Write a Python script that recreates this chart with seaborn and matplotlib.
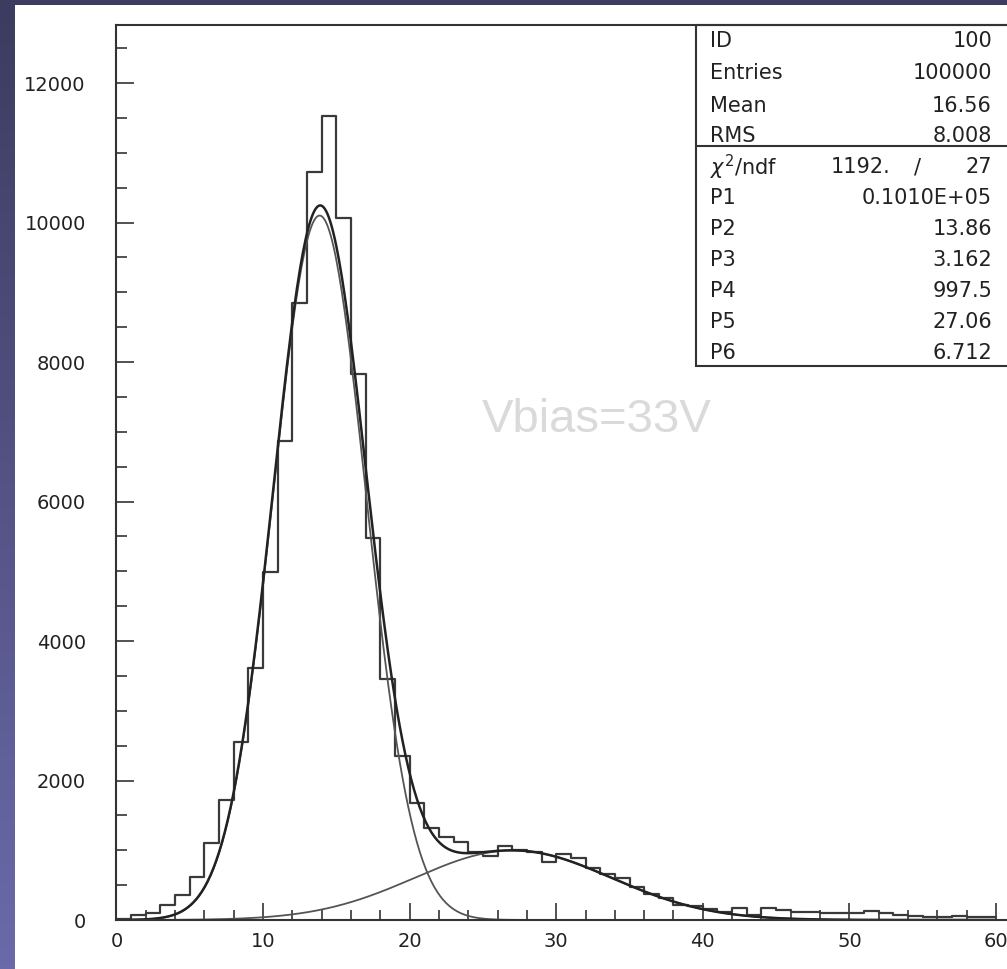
import numpy as np
import pandas as pd
import matplotlib
matplotlib.use("Agg")
import matplotlib.pyplot as plt
from matplotlib.patches import Rectangle
from matplotlib.colors import LinearSegmentedColormap
from matplotlib.ticker import MultipleLocator
import seaborn as sns

# ---------------- data ----------------
bin_edges = list(range(0, 61))
bin_counts = [20, 70, 95, 215, 358, 612, 1100, 1720, 2556, 3608,
              4994, 6872, 8850, 10728, 11531, 10069, 7828, 5470, 3460, 2355,
              1680, 1320, 1185, 1120, 980, 920, 1063, 1005, 970, 836,
              940, 890, 750, 659, 597, 468, 373, 311, 215, 201,
              153, 119, 167, 72, 167, 143, 110, 110, 100, 95,
              100, 130, 95, 70, 60, 45, 40, 55, 50, 40]
# fit parameters shown in the stat box (two gaussians)
fit_params = {"P1": 10100.0, "P2": 13.86, "P3": 3.162,
              "P4": 997.5, "P5": 27.06, "P6": 6.712}
stat_labels = ["ID", "Entries", "Mean", "RMS"]
stat_values = ["100", "100000", "16.56", "8.008"]
chi2_text = ["1192.", "/", "27"]
param_labels = ["P1", "P2", "P3", "P4", "P5", "P6"]
param_values = ["0.1010E+05", "13.86", "3.162", "997.5", "27.06", "6.712"]
annotation = "Vbias=33V"
x_ticks = [0, 10, 20, 30, 40, 50, 60]
y_ticks = [0, 2000, 4000, 6000, 8000, 10000, 12000]

W, H = 1007, 969
def fx(px): return px / W
def fy(py): return 1 - py / H

sns.set_theme(style="white")
plt.rcParams["font.family"] = ["DejaVu Sans"]

fig = plt.figure(figsize=(W / 100, H / 100), dpi=100)

# background with purple gradient frame
bg = fig.add_axes([0, 0, 1, 1])
bg.set_zorder(-10)
cmap = LinearSegmentedColormap.from_list("bg", ["#3c3c60", "#6a6aaa"])
grad = np.linspace(0, 1, 256).reshape(-1, 1)
bg.imshow(grad, extent=[0, 1, 0, 1], aspect="auto", cmap=cmap, origin="upper")
bg.add_patch(Rectangle((fx(15), 0), 1, fy(5), color="white", lw=0))
bg.set_xlim(0, 1); bg.set_ylim(0, 1)
bg.axis("off")

# main axes
x0, xr = 116.4, 14.66      # px of x=0, px per unit
y0, yt = 920.0, 25.0       # px of y=0, px of frame top
xmax = 61
ymax = (y0 - yt) / 139.5 * 2000
ax = fig.add_axes([fx(x0), fy(y0), (xmax * xr) / W, (y0 - yt) / H])
ax.set_facecolor("none")

centers = [e + 0.5 for e in bin_edges[:-1]]
df = pd.DataFrame({"x": centers, "w": bin_counts})
sns.histplot(data=df, x="x", weights="w", bins=bin_edges, element="step",
             fill=False, color="#3a3a3a", linewidth=1.6, ax=ax)

xs = np.linspace(1, 60, 600)
g1 = fit_params["P1"] * np.exp(-0.5 * ((xs - fit_params["P2"]) / fit_params["P3"]) ** 2)
g2 = fit_params["P4"] * np.exp(-0.5 * ((xs - fit_params["P5"]) / fit_params["P6"]) ** 2)
sns.lineplot(x=xs, y=g1, color="#555555", linewidth=1.3, ax=ax)
sns.lineplot(x=xs, y=g2, color="#555555", linewidth=1.3, ax=ax)
sns.lineplot(x=xs, y=g1 + g2, color="#222222", linewidth=1.8, ax=ax)

ax.set_xlim(0, xmax)
ax.set_ylim(0, ymax)
ax.set_xlabel("")
ax.set_ylabel("")
ax.set_xticks(x_ticks)
ax.set_yticks(y_ticks)
ax.xaxis.set_minor_locator(MultipleLocator(2))
ax.yaxis.set_minor_locator(MultipleLocator(500))
ax.tick_params(axis="x", which="major", direction="in", length=12.5, width=1.2,
               color="#333333", labelcolor="#222222", labelsize=14, pad=8.5,
               bottom=True)
ax.tick_params(axis="x", which="minor", direction="in", length=7, width=1.2,
               color="#333333", bottom=True)
ax.tick_params(axis="y", which="major", direction="in", length=13, width=1.2,
               color="#333333", labelcolor="#222222", labelsize=14, pad=22,
               left=True)
ax.tick_params(axis="y", which="minor", direction="in", length=8, width=1.2,
               color="#333333", left=True)
for s in ["left", "bottom", "top", "right"]:
    ax.spines[s].set_color("#333333")
    ax.spines[s].set_linewidth(1.5)
    ax.spines[s].set_visible(True)

# annotation
fig.text(fx(597), fy(420), annotation, ha="center", va="center",
         fontsize=34, color="#dadada", family=["Liberation Sans", "DejaVu Sans"])

# stat box
box_left, box_top, box_bottom = 696, 25, 366
bg.add_patch(Rectangle((fx(box_left), fy(box_bottom)), 1, fy(box_top) - fy(box_bottom),
                       facecolor="white", edgecolor="#333333", lw=1.5, zorder=5))
bg.plot([fx(box_left), 1], [fy(146), fy(146)], color="#333333", lw=1.5, zorder=6)
lx, rx = 710, 992
fs = 15
rows_top = [41, 73, 106, 136]
for lab, val, py in zip(stat_labels, stat_values, rows_top):
    fig.text(fx(lx), fy(py), lab, ha="left", va="center", fontsize=fs, color="#222222", zorder=10)
    fig.text(fx(rx), fy(py), val, ha="right", va="center", fontsize=fs, color="#222222", zorder=10)
py = 167
fig.text(fx(lx), fy(py), r"$\chi^2$/ndf", ha="left", va="center", fontsize=fs, color="#222222", zorder=10)
fig.text(fx(890), fy(py), chi2_text[0], ha="right", va="center", fontsize=fs, color="#222222", zorder=10)
fig.text(fx(918), fy(py), chi2_text[1], ha="center", va="center", fontsize=fs, color="#222222", zorder=10)
fig.text(fx(rx), fy(py), chi2_text[2], ha="right", va="center", fontsize=fs, color="#222222", zorder=10)
for i, (lab, val) in enumerate(zip(param_labels, param_values)):
    py = 198 + i * 31
    fig.text(fx(lx), fy(py), lab, ha="left", va="center", fontsize=fs, color="#222222", zorder=10)
    fig.text(fx(rx), fy(py), val, ha="right", va="center", fontsize=fs, color="#222222", zorder=10)

fig.savefig("out.png", dpi=100)
